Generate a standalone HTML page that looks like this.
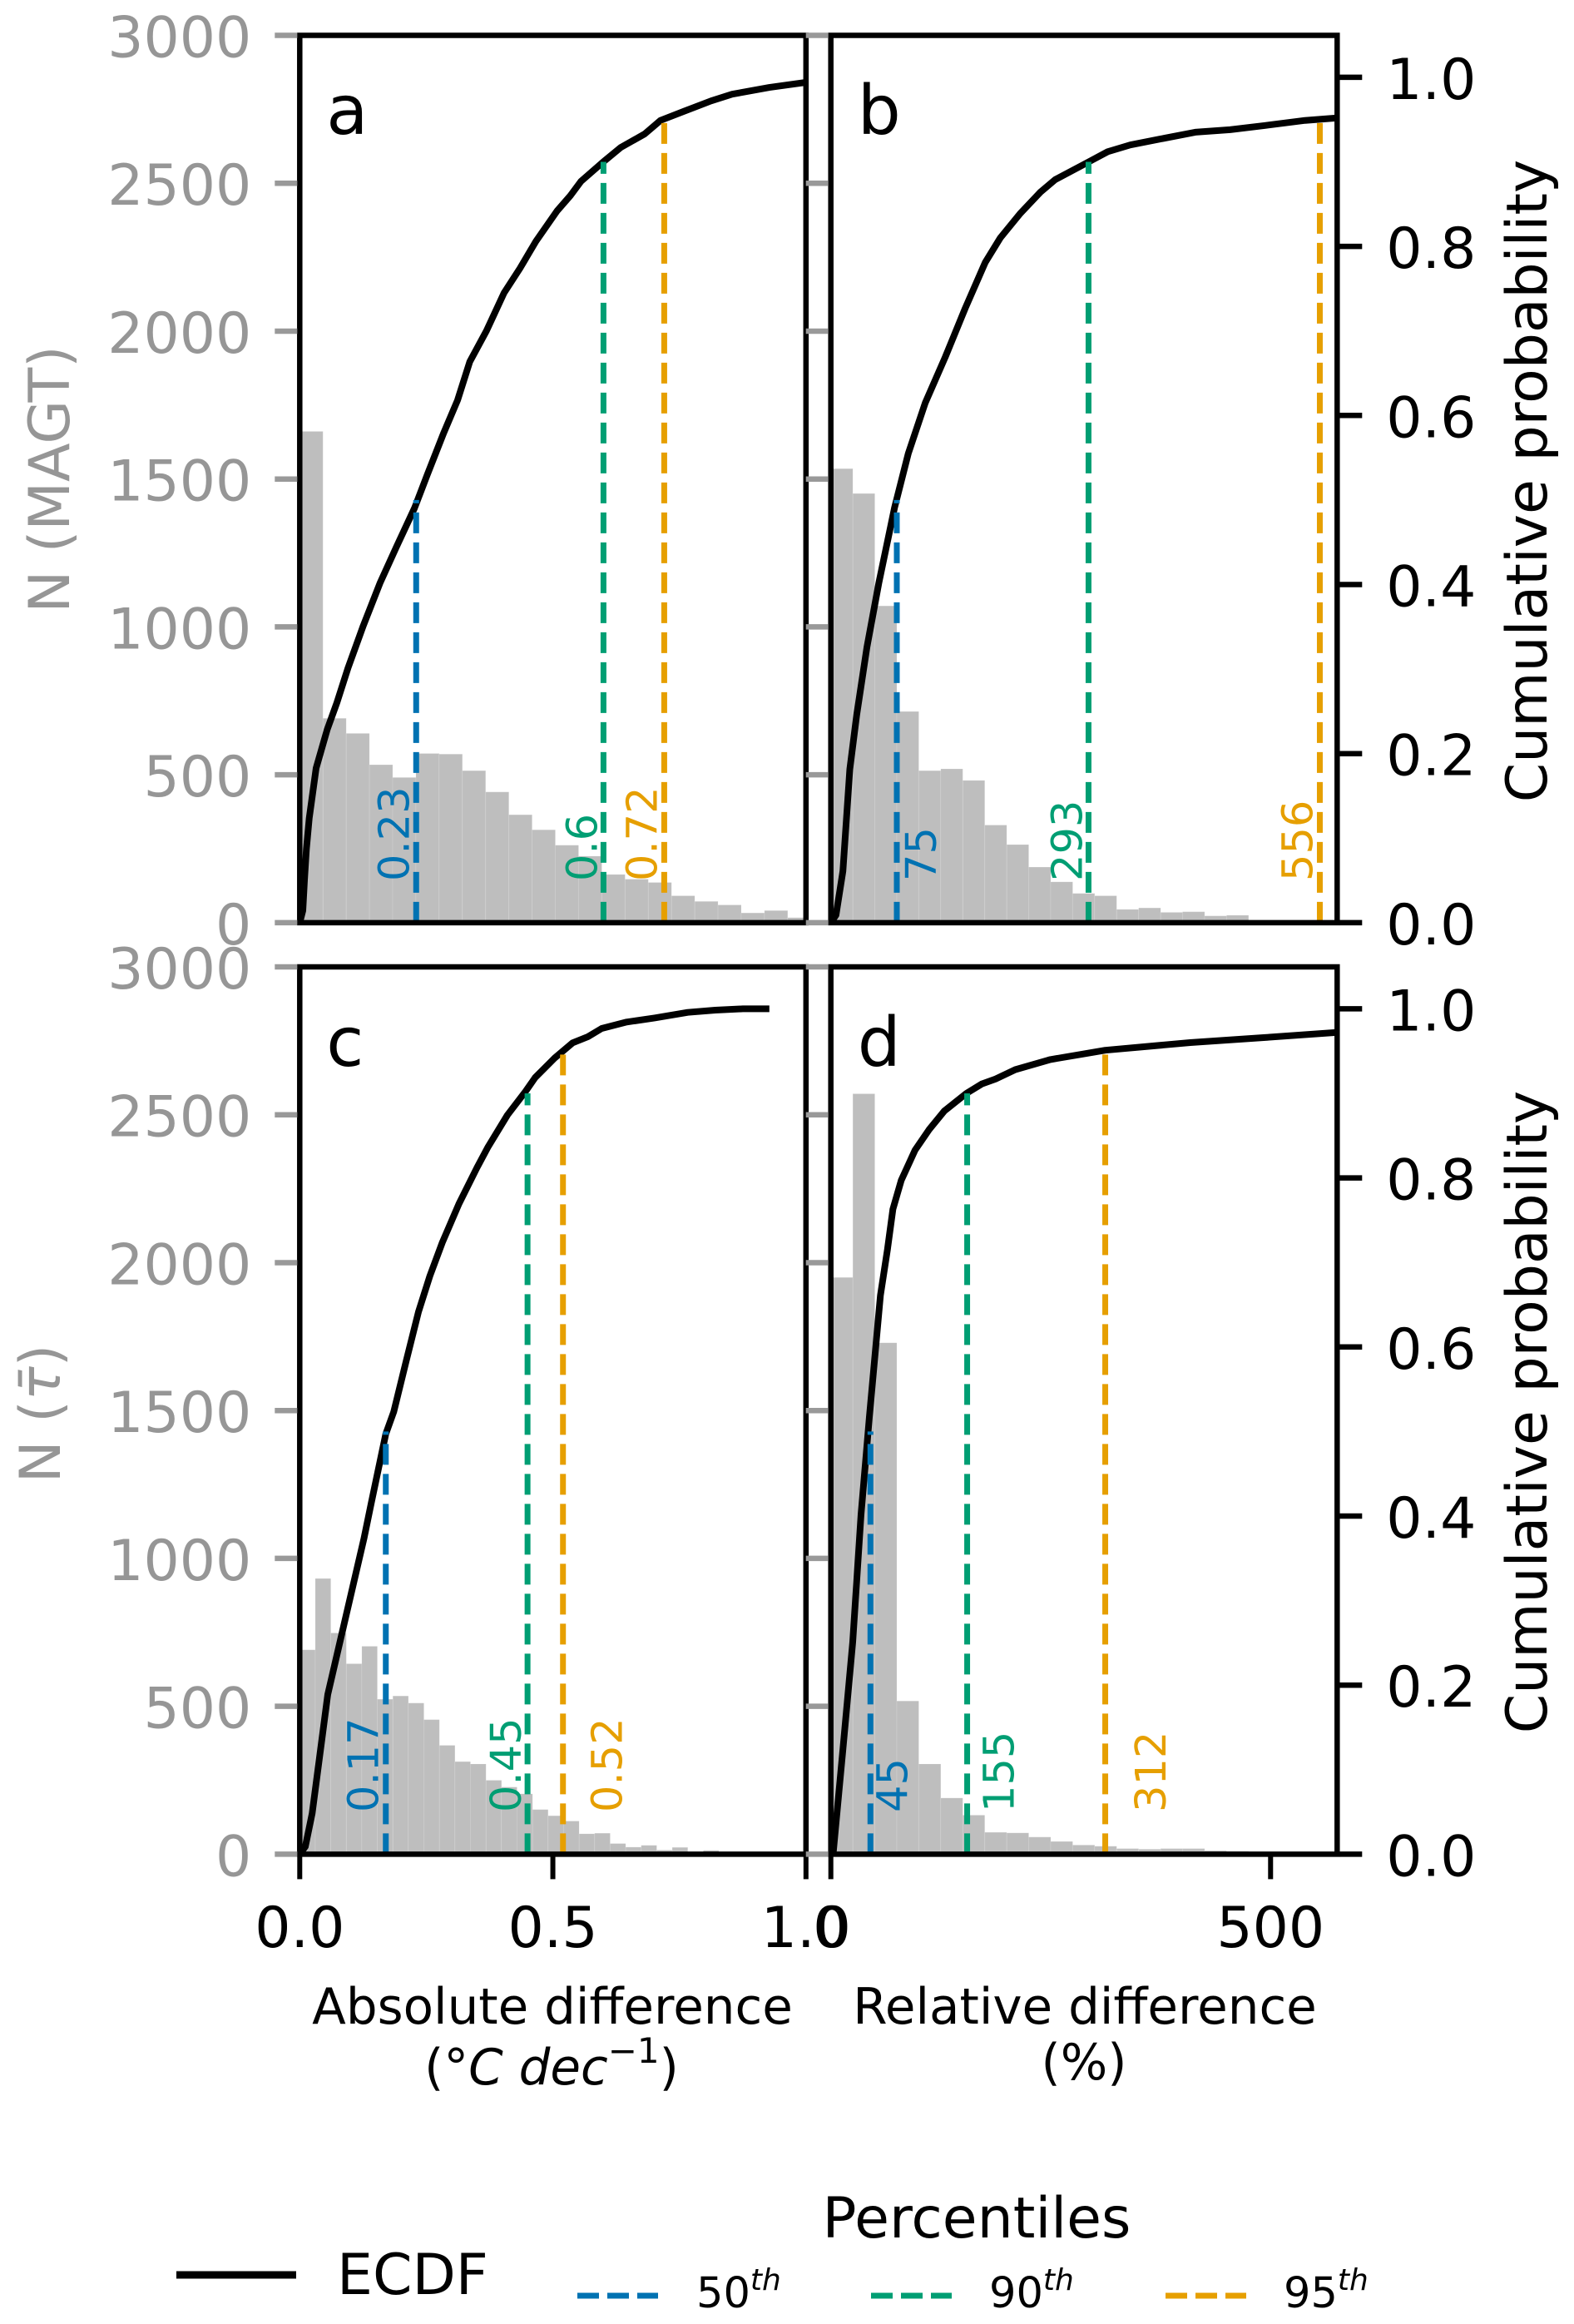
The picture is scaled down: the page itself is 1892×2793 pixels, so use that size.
<!DOCTYPE html>
<html lang="en">
<head>
<meta charset="utf-8">
<title>ECDF and histograms of differences</title>
<style>
html,body{margin:0;padding:0;background:#fff;}
svg{display:block;position:absolute;left:0;top:0;}
text{font-family:"DejaVu Sans","Liberation Sans",sans-serif;}
</style>
</head>
<body>
<svg id="chart" xmlns="http://www.w3.org/2000/svg" width="1892" height="2793" viewBox="0 0 1892 2793">
<rect x="0" y="0" width="1892" height="2793" fill="#ffffff"/>
<g id="panels"></g>

<text transform="translate(83,576) rotate(-90)" text-anchor="middle" font-size="68" fill="#969696">N (MAGT)</text>
<text transform="translate(72,1699) rotate(-90)" text-anchor="middle" font-size="68" fill="#969696">N (<tspan font-style="italic">τ̄</tspan>)</text>
<text transform="translate(1859,578) rotate(-90)" text-anchor="middle" font-size="68" fill="#000">Cumulative probability</text>
<text transform="translate(1859,1697) rotate(-90)" text-anchor="middle" font-size="68" fill="#000">Cumulative probability</text>

<text x="664" y="2432" text-anchor="middle" font-size="59.5" fill="#000">Absolute difference</text>
<text x="663" y="2505" text-anchor="middle" font-size="59.5" fill="#000">(°<tspan font-style="italic">C dec</tspan><tspan dy="-26" font-size="42">−1</tspan><tspan dy="26">)</tspan></text>
<text x="1304" y="2432" text-anchor="middle" font-size="59.5" fill="#000">Relative difference</text>
<text x="1303" y="2499" text-anchor="middle" font-size="59.5" fill="#000">(%)</text>

<line x1="212" x2="356" y1="2734" y2="2734" stroke="#000" stroke-width="9"/>
<text x="405" y="2757" font-size="68" fill="#000">ECDF</text>
<text x="1174" y="2689" text-anchor="middle" font-size="68" fill="#000">Percentiles</text>
<line x1="694" x2="791" y1="2759" y2="2759" stroke="#0072B2" stroke-width="7" stroke-dasharray="26 10"/>
<text x="837" y="2773" font-size="51" fill="#000">50<tspan dy="-21" font-size="36" font-style="italic">th</tspan></text>
<line x1="1047" x2="1144" y1="2759" y2="2759" stroke="#009E73" stroke-width="7" stroke-dasharray="26 10"/>
<text x="1189" y="2773" font-size="51" fill="#000">90<tspan dy="-21" font-size="36" font-style="italic">th</tspan></text>
<line x1="1401" x2="1498" y1="2759" y2="2759" stroke="#E69F00" stroke-width="7" stroke-dasharray="26 10"/>
<text x="1543" y="2773" font-size="51" fill="#000">95<tspan dy="-21" font-size="36" font-style="italic">th</tspan></text>
</svg>

<script>
// ---- shared tick values ----
const countTicks = [0, 500, 1000, 1500, 2000, 2500, 3000];
const probTicks = [0.0, 0.2, 0.4, 0.6, 0.8, 1.0];
const probTickLabels = ["0.0", "0.2", "0.4", "0.6", "0.8", "1.0"];
const absXTicks = [0, 0.5, 1.0];
const absXTickLabels = ["0.0", "0.5", "1.0"];
const relXTicks = [0, 500];
const relXTickLabels = ["0", "500"];
const percentileProbs = [0.5, 0.9, 0.95];
const percentileColors = ["#0072B2", "#009E73", "#E69F00"];

// ---- panel a ----
const histA = [1661, 691, 640, 534, 491, 572, 570, 514, 442, 365, 314, 262, 225, 163, 147, 136, 91, 72, 60, 33, 41, 17];
const binWidthA = 0.0459;
const ecdfAx = [0, 0.006, 0.0094, 0.0132, 0.0187, 0.0324, 0.0543, 0.0735, 0.0953, 0.1256, 0.1584, 0.1913, 0.2268, 0.2515, 0.2843, 0.3117, 0.3359, 0.3688, 0.4036, 0.435, 0.4665, 0.5084, 0.5346, 0.5556, 0.5996, 0.6342, 0.6813, 0.7128, 0.76, 0.8124, 0.8543, 0.9277, 1.0];
const ecdfAp = [0, 0.0143, 0.0507, 0.087, 0.1236, 0.1829, 0.2284, 0.2603, 0.3013, 0.3514, 0.4016, 0.4449, 0.4905, 0.5291, 0.5792, 0.618, 0.6636, 0.7, 0.745, 0.774, 0.806, 0.842, 0.86, 0.877, 0.9, 0.917, 0.933, 0.949, 0.96, 0.972, 0.98, 0.988, 0.994];
const percentilesA = [0.23, 0.6, 0.72];
const percentileLabelsA = ["0.23", "0.6", "0.72"];

// ---- panel b ----
const histB = [1535, 1451, 1071, 714, 514, 520, 481, 330, 264, 188, 138, 99, 91, 45, 50, 35, 37, 23, 25];
const binWidthB = 25;
const ecdfBx = [0, 5.9, 13.7, 21.6, 29.4, 41.1, 54.7, 72.5, 88.1, 107.4, 130.1, 152.9, 175.6, 192.7, 215.4, 238.1, 255.2, 293.2, 314.8, 340.4, 374.5, 414.3, 454, 493.9, 539.3, 575.7];
const ecdfBp = [0, 0.009, 0.061, 0.1815, 0.246, 0.326, 0.4025, 0.491, 0.555, 0.615, 0.669, 0.727, 0.781, 0.81, 0.839, 0.864, 0.879, 0.9, 0.912, 0.92, 0.927, 0.935, 0.938, 0.943, 0.949, 0.952];
const percentilesB = [75, 293, 556];
const percentileLabelsB = ["75", "293", "556"];

// ---- panel c ----
const histC = [691, 932, 748, 644, 703, 524, 535, 511, 455, 368, 313, 305, 250, 227, 204, 151, 130, 112, 69, 71, 36, 24, 30, 14, 23, 8, 13, 3, 4, 2, 4, 1, 1];
const binWidthC = 0.03066;
const ecdfCx = [0, 0.011, 0.0245, 0.0553, 0.0891, 0.1267, 0.1415, 0.17, 0.1857, 0.2099, 0.2345, 0.257, 0.2816, 0.3145, 0.3501, 0.372, 0.4103, 0.446, 0.4651, 0.5035, 0.539, 0.5693, 0.5966, 0.6459, 0.7007, 0.7665, 0.8207, 0.8753, 0.9277];
const ecdfCp = [0, 0.009, 0.048, 0.189, 0.276, 0.373, 0.416, 0.497, 0.5233, 0.5824, 0.6414, 0.684, 0.7236, 0.7694, 0.812, 0.8367, 0.8744, 0.9023, 0.9187, 0.9417, 0.9597, 0.967, 0.9768, 0.9843, 0.9892, 0.9958, 0.9984, 1.0, 1.0];
const percentilesC = [0.17, 0.45, 0.52];
const percentileLabelsC = ["0.17", "0.45", "0.52"];

// ---- panel d ----
const histD = [1950, 2571, 1729, 518, 305, 190, 132, 74, 72, 58, 43, 31, 27, 19, 17, 19, 19, 12, 10, 8, 4, 3, 2];
const binWidthD = 25;
const ecdfDx = [0, 2.8, 13.8, 24.9, 34.3, 43.8, 56.4, 64.3, 70.6, 80, 95.8, 111.6, 128.9, 154.2, 171.5, 187.3, 209.7, 249.5, 312, 408.6, 493.9, 575.7];
const ecdfDp = [0, 0.003, 0.125, 0.251, 0.402, 0.517, 0.661, 0.715, 0.763, 0.797, 0.833, 0.857, 0.879, 0.9, 0.911, 0.917, 0.928, 0.94, 0.951, 0.96, 0.966, 0.972];
const percentilesD = [45, 155, 312];
const percentileLabelsD = ["45", "155", "312"];

// ---- layout ----
const SVGNS = "http://www.w3.org/2000/svg";
const root = document.getElementById("panels");
const COUNT_MAX = 3000, PROB_MAX = 1.0496;
const ROW_TOP = {top: 42.5, bottom: 1108.9, labelY: 1059};
const ROW_BOT = {top: 1162, bottom: 2228.4, labelY: 2178};
const COL_L = {left: 360.3, right: 968.8, xMax: 1.0};
const COL_R = {left: 998.7, right: 1607.3, xMax: 575.7};

function make(tag, parent) {
  const el = document.createElementNS(SVGNS, tag);
  parent.appendChild(el);
  return el;
}

function drawPanel(key, letter, col, row, hist, binW, ex, ep, pct, pctLabels, labelOffsets, opts) {
  const xS = v => col.left + v / col.xMax * (col.right - col.left);
  const yC = v => row.bottom - v / COUNT_MAX * (row.bottom - row.top);
  const yP = v => row.bottom - v / PROB_MAX * (row.bottom - row.top);

  const g = make("g", root);
  
  

  const clip = make("clipPath", g);
  clip.setAttribute("id", "clip-" + key);
  const clipRect = make("rect", clip);
  clipRect.setAttribute("x", col.left);
  clipRect.setAttribute("y", row.top);
  clipRect.setAttribute("width", col.right - col.left);
  clipRect.setAttribute("height", row.bottom - row.top);

  // histogram
  const hg = make("g", g);
  
  
  hg.setAttribute("clip-path", "url(#clip-" + key + ")");
  hist.forEach((v, i) => {
    const r = make("rect", hg);
    
    
    r.setAttribute("x", xS(i * binW));
    r.setAttribute("y", yC(v));
    r.setAttribute("width", xS((i + 1) * binW) - xS(i * binW));
    r.setAttribute("height", row.bottom - yC(v));
    r.setAttribute("fill", "#bebebe");
    r.setAttribute("stroke", "#ffffff");
    r.setAttribute("stroke-opacity", "0.12");
    r.setAttribute("stroke-width", "1");
  });

  // ECDF
  const line = make("polyline", g);
  
  
  line.setAttribute("points", ex.map((v, i) => xS(v).toFixed(1) + "," + yP(ep[i]).toFixed(1)).join(" "));
  line.setAttribute("fill", "none");
  line.setAttribute("stroke", "#000");
  line.setAttribute("stroke-width", "8");
  line.setAttribute("stroke-linejoin", "round");
  line.setAttribute("clip-path", "url(#clip-" + key + ")");

  // percentile lines
  pct.forEach((v, i) => {
    const l = make("line", g);
    
    
    l.setAttribute("x1", xS(v));
    l.setAttribute("x2", xS(v));
    l.setAttribute("y1", row.bottom);
    l.setAttribute("y2", yP(percentileProbs[i]));
    l.setAttribute("stroke", percentileColors[i]);
    l.setAttribute("stroke-width", "7");
    l.setAttribute("stroke-dasharray", "25 11");
  });

  // spines
  const sp = make("rect", g);
  
  
  sp.setAttribute("x", col.left);
  sp.setAttribute("y", row.top);
  sp.setAttribute("width", col.right - col.left);
  sp.setAttribute("height", row.bottom - row.top);
  sp.setAttribute("fill", "none");
  sp.setAttribute("stroke", "#000");
  sp.setAttribute("stroke-width", "6.5");

  // percentile labels
  pct.forEach((v, i) => {
    const t = make("text", g);
    
    
    t.setAttribute("transform", "translate(" + (xS(v) + labelOffsets[i]) + "," + row.labelY + ") rotate(-90)");
    t.setAttribute("font-size", "51");
    t.setAttribute("fill", percentileColors[i]);
    t.textContent = pctLabels[i];
  });

  // count ticks (grey)
  countTicks.forEach(v => {
    const tk = make("line", g);
    
    
    tk.setAttribute("x1", col.left - 30);
    tk.setAttribute("x2", col.left - 3);
    tk.setAttribute("y1", yC(v));
    tk.setAttribute("y2", yC(v));
    tk.setAttribute("stroke", "#999999");
    tk.setAttribute("stroke-width", "6.5");
    if (opts.countLabels) {
      const t = make("text", g);
      
      
      t.setAttribute("x", col.left - 58);
      t.setAttribute("y", yC(v) + 26);
      t.setAttribute("text-anchor", "end");
      t.setAttribute("font-size", "68");
      t.setAttribute("fill", "#969696");
      t.textContent = String(v);
    }
  });

  // probability ticks (black, right side)
  if (opts.probAxis) {
    probTicks.forEach((v, i) => {
      const tk = make("line", g);
      
      
      tk.setAttribute("x1", col.right + 3);
      tk.setAttribute("x2", col.right + 30);
      tk.setAttribute("y1", yP(v));
      tk.setAttribute("y2", yP(v));
      tk.setAttribute("stroke", "#000");
      tk.setAttribute("stroke-width", "6.5");
      const t = make("text", g);
      
      
      t.setAttribute("x", col.right + 59);
      t.setAttribute("y", yP(v) + 26);
      t.setAttribute("font-size", "68");
      t.setAttribute("fill", "#000");
      t.textContent = probTickLabels[i];
    });
  }

  // x ticks (bottom row)
  if (opts.xTicks) {
    opts.xTicks.forEach((v, i) => {
      const tk = make("line", g);
      
      
      tk.setAttribute("x1", xS(v));
      tk.setAttribute("x2", xS(v));
      tk.setAttribute("y1", row.bottom + 3);
      tk.setAttribute("y2", row.bottom + 30);
      tk.setAttribute("stroke", "#000");
      tk.setAttribute("stroke-width", "6");
      const t = make("text", g);
      
      
      t.setAttribute("x", xS(v));
      t.setAttribute("y", 2340);
      t.setAttribute("text-anchor", "middle");
      t.setAttribute("font-size", "68");
      t.setAttribute("fill", "#000");
      t.textContent = opts.xTickLabels[i];
    });
  }

  // panel letter
  const lt = make("text", g);
  
  
  lt.setAttribute("x", col.left + 32);
  lt.setAttribute("y", row.top + (row === ROW_TOP ? 118.5 : 119));
  lt.setAttribute("font-size", "82");
  lt.setAttribute("fill", "#000");
  lt.textContent = letter;
}

drawPanel("a", "a", COL_L, ROW_TOP, histA, binWidthA, ecdfAx, ecdfAp, percentilesA, percentileLabelsA, [-9, -8, -9], {countLabels: true});
drawPanel("b", "b", COL_R, ROW_TOP, histB, binWidthB, ecdfBx, ecdfBp, percentilesB, percentileLabelsB, [47, -8, -9], {probAxis: true});
drawPanel("c", "c", COL_L, ROW_BOT, histC, binWidthC, ecdfCx, ecdfCp, percentilesC, percentileLabelsC, [-9, -8, 71], {countLabels: true, xTicks: absXTicks, xTickLabels: absXTickLabels});
drawPanel("d", "d", COL_R, ROW_BOT, histD, binWidthD, ecdfDx, ecdfDp, percentilesD, percentileLabelsD, [44, 56, 72.5], {probAxis: true, xTicks: relXTicks, xTickLabels: relXTickLabels});
</script>
</body>
</html>
